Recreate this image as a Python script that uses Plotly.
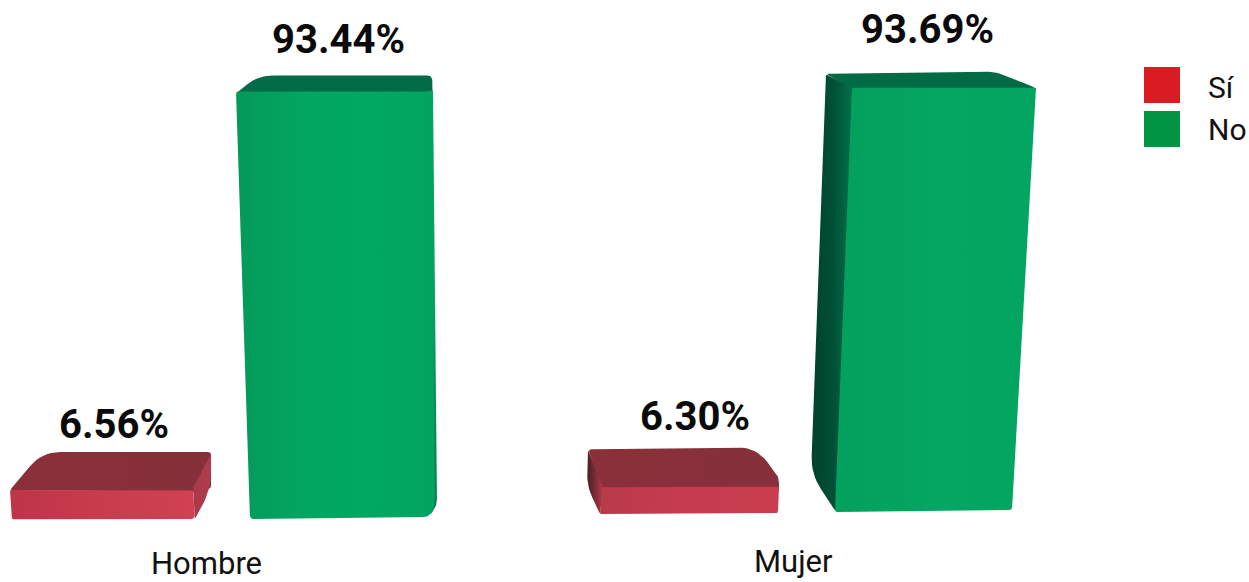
import plotly.graph_objects as go

categories = ["Hombre", "Mujer"]
si_values = [6.56, 6.30]
no_values = [93.44, 93.69]
series_names = ["Sí", "No"]
value_text_si = ["6.56%", "6.30%"]
value_text_no = ["93.44%", "93.69%"]

W, H = 1249, 582
K = 4.56        # pixels per percentage point
ZERO_PX = 518   # pixel row of value 0


def dy(px):
    return px / K


def rounded(points):
    """points: (x, y in value units, radius px); returns a smoothed outline."""
    out_x, out_y = [], []
    n = len(points)
    for i in range(n):
        x0, y0, _ = points[i - 1]
        x1, y1, r = points[i]
        x2, y2, _ = points[(i + 1) % n]
        if r == 0:
            out_x.append(x1)
            out_y.append(y1)
            continue
        v1 = (x0 - x1, (y0 - y1) * K)
        v2 = (x2 - x1, (y2 - y1) * K)
        l1 = (v1[0] ** 2 + v1[1] ** 2) ** 0.5
        l2 = (v2[0] ** 2 + v2[1] ** 2) ** 0.5
        a = (x1 + v1[0] / l1 * min(r, l1 / 2), y1 + v1[1] / l1 * min(r, l1 / 2) / K)
        b = (x1 + v2[0] / l2 * min(r, l2 / 2), y1 + v2[1] / l2 * min(r, l2 / 2) / K)
        for s in range(9):
            t = s / 8
            out_x.append((1 - t) ** 2 * a[0] + 2 * t * (1 - t) * x1 + t ** 2 * b[0])
            out_y.append((1 - t) ** 2 * a[1] + 2 * t * (1 - t) * y1 + t ** 2 * b[1])
    return out_x + out_x[:1], out_y + out_y[:1]


def face(fig, pts, colors, kind="horizontal", name=""):
    xs, ys = rounded(pts)
    scale = [[i / (len(colors) - 1), c] for i, c in enumerate(colors)]
    fig.add_trace(go.Scatter(
        x=xs, y=ys, mode="lines", fill="toself", name=name, showlegend=False,
        hoverinfo="skip", line=dict(width=0),
        fillgradient=dict(type=kind, colorscale=scale),
    ))


fig = go.Figure()

RED_FRONT = ["#C03448", "#C93C4E", "#D04252"]
RED_TOP = ["#8A303B", "#85303A"]
GREEN_TOP = ["#006B45", "#006B45"]

# --- Hombre / Si ---
v = si_values[0]
b = dy(ZERO_PX - 520)
t = v + b
face(fig, [(42, t + dy(38), 18), (211, t + dy(38), 3), (211, t + dy(2), 2), (193, t - dy(2), 2), (10, t, 2)],
     RED_TOP, name="Sí")
face(fig, [(193, t + dy(2), 0), (211, t + dy(36), 0), (211, t + dy(2), 16), (195, b, 4)],
     ["#A8394A", "#B23C4C"], name="Sí")
face(fig, [(10, t, 1), (193, t, 2), (195, b + dy(1), 4), (12, b, 3)], RED_FRONT, name="Sí")

# --- Hombre / No ---
v = no_values[0]
b = dy(ZERO_PX - 519)
t = v + b + dy(1.5)
face(fig, [(258, t + dy(16), 16), (432, t + dy(16), 5), (433, t - dy(2), 2), (236, t - dy(2), 2)],
     GREEN_TOP, name="No")
face(fig, [(426, t, 0), (433, t + dy(1), 0), (437, b + dy(14), 6), (429, b + dy(2), 6)],
     ["#007F52", "#03A35E", "#04A560"], "vertical", name="No")
face(fig, [(236, t, 3), (430, t, 2), (435, b + dy(12), 10), (428, b + dy(2), 4), (250, b, 4)],
     ["#04995A", "#02A660", "#00A862", "#03A35F"], name="No")

# --- Mujer / Si ---
v = si_values[1]
b = dy(ZERO_PX - 514)
t = v + b - dy(2)
face(fig, [(588, t + dy(38), 4), (756, t + dy(40), 18), (779, t + dy(10), 6), (779, t - dy(2), 0), (602, t - dy(2), 0)],
     RED_TOP, name="Sí")
face(fig, [(603, t, 0), (588, t + dy(38), 3), (587, b + dy(28), 12), (600, b, 2)],
     ["#46202A", "#7A2B38", "#B03A4A"], name="Sí")
face(fig, [(602, t, 1), (779, t + dy(1), 2), (778, b + dy(1), 2), (600, b, 1)],
     ["#BA3A4A", "#C63C4E", "#C93D4F"], name="Sí")

# --- Mujer / No ---
v = no_values[1]
b = dy(ZERO_PX - 512)
t = v + b - dy(3)
face(fig, [(826, t + dy(14), 3), (995, t + dy(16), 6), (1036, t, 5), (1036, t - dy(2), 0), (853, t - dy(2), 0)],
     GREEN_TOP, name="No")
face(fig, [(853, t, 0), (826, t + dy(14), 3), (811, b + dy(38), 18), (836, b, 3)],
     ["#00432D", "#004F35", "#02734B"], name="No")
face(fig, [(852, t, 2), (1036, t, 3), (1012, b + dy(2), 3), (835, b, 2)],
     ["#04A05E", "#04A660", "#02A561"], name="No")

cat_font = dict(family="Roboto", size=31, color="#111111")
legend_font = dict(family="Roboto", size=30, color="#111111")


def y_at(px):
    return (ZERO_PX - px) / K


annotations = []
for text, x, px in zip(value_text_si + value_text_no,
                       [114, 695, 338, 927], [424, 416, 39, 29]):
    annotations.append(dict(x=x, y=y_at(px), text=f"<b>{text}</b>", showarrow=False,
                            font=dict(family="Roboto", size=40, color="#0a0a0a"),
                            xanchor="center", yanchor="middle"))
for text, x, px in zip(categories, [206, 793], [563, 561]):
    annotations.append(dict(x=x, y=y_at(px), text=text, showarrow=False, font=cat_font,
                            xanchor="center", yanchor="middle"))
for text, px in zip(series_names, [87, 129]):
    annotations.append(dict(x=1206, y=y_at(px), text=text, showarrow=False, font=legend_font,
                            xanchor="left", yanchor="middle"))

shapes = []
for color, top in zip(["#DA1C22", "#009444"], [67, 111]):
    shapes.append(dict(type="rect", x0=1144, x1=1180, y0=y_at(top), y1=y_at(top + 36),
                       fillcolor=color, line=dict(width=0), layer="above"))

fig.update_layout(
    width=W, height=H, autosize=False,
    margin=dict(l=0, r=0, t=0, b=0),
    paper_bgcolor="white", plot_bgcolor="white",
    xaxis=dict(range=[0, W], visible=False, fixedrange=True),
    yaxis=dict(range=[y_at(H), y_at(0)], visible=False, fixedrange=True),
    annotations=annotations, shapes=shapes, showlegend=False,
)
fig.write_html("out.html", config={"displayModeBar": False},
               post_script="document.body.style.margin='0';document.body.style.overflow='hidden';")
